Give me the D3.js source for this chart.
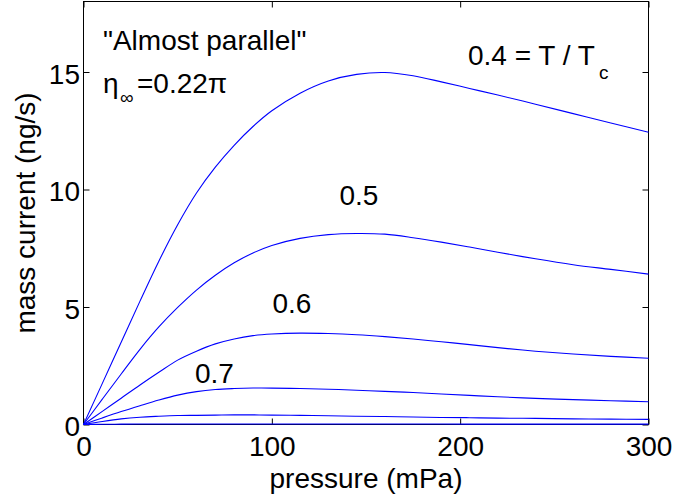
<!DOCTYPE html>
<html>
<head>
<meta charset="utf-8">
<script src="https://cdn.jsdelivr.net/npm/d3@7"></script>
<style>
  html, body { margin: 0; padding: 0; background: #fff; }
  svg { display: block; }
  text { font-family: "Liberation Sans", Arial, Helvetica, sans-serif; fill: #000; }
</style>
</head>
<body>
<svg id="chart" width="674" height="500"></svg>
<script>
// ---- data ----
const pressure = [0,10,20,30,40,50,60,70,80,90,100,115,130,145,160,175,190,205,220,240,260,280,300];
const current04 = [0,1.75,3.5,5.25,6.95,8.5,9.85,10.95,11.88,12.68,13.35,14.1,14.62,14.9,14.98,14.84,14.58,14.3,14.02,13.63,13.23,12.83,12.44];
const current05 = [0,1.08,2.15,3.2,4.15,4.98,5.72,6.35,6.88,7.3,7.62,7.92,8.08,8.13,8.1,7.95,7.76,7.55,7.33,7.05,6.8,6.6,6.4];
const current06 = [0,0.56,1.12,1.68,2.22,2.74,3.12,3.43,3.64,3.78,3.85,3.89,3.87,3.82,3.74,3.64,3.52,3.4,3.27,3.12,3.0,2.9,2.82];
const current07 = [0,0.28,0.55,0.8,1.04,1.25,1.4,1.49,1.53,1.55,1.55,1.53,1.5,1.46,1.41,1.36,1.3,1.24,1.18,1.11,1.06,1.01,0.97];
const current08 = [0,0.13,0.24,0.31,0.35,0.38,0.39,0.4,0.41,0.41,0.4,0.39,0.37,0.35,0.34,0.32,0.3,0.29,0.27,0.26,0.24,0.23,0.22];
const current09 = [0,0.01,0.015,0.02,0.02,0.02,0.02,0.02,0.02,0.02,0.02,0.02,0.02,0.02,0.02,0.02,0.02,0.018,0.018,0.017,0.016,0.015,0.015];
const seriesNames = ["0.4","0.5","0.6","0.7","0.8","0.9"];
const xTicks = [0,100,200,300];
const yTicks = [0,5,10,15];

// ---- layout ----
const svg = d3.select("#chart");
const L = 83.5, R = 648.5, T = 1.5, B = 424.5;
const x = d3.scaleLinear().domain([0,300]).range([L,R]);
const y = d3.scaleLinear().domain([0,18]).range([B,T]);
const FS = 28;

// box
svg.append("rect").attr("x",L).attr("y",T).attr("width",R-L).attr("height",B-T)
  .attr("fill","none").attr("stroke","#000").attr("stroke-width",1);

// axes (inward ticks)
const gx = svg.append("g").attr("transform",`translate(0,${B})`)
  .call(d3.axisBottom(x).tickValues(xTicks).tickSizeInner(-6).tickSizeOuter(0).tickPadding(11.5));
const gy = svg.append("g").attr("transform",`translate(${L},0)`)
  .call(d3.axisLeft(y).tickValues(yTicks).tickSizeInner(-6).tickSizeOuter(0).tickPadding(3.5));
const gxt = svg.append("g").attr("transform",`translate(0,${T})`)
  .call(d3.axisTop(x).tickValues(xTicks).tickSizeInner(-6).tickSizeOuter(0).tickFormat(""));
const gyr = svg.append("g").attr("transform",`translate(${R},0)`)
  .call(d3.axisRight(y).tickValues(yTicks).tickSizeInner(-6).tickSizeOuter(0).tickFormat(""));
[gx,gy,gxt,gyr].forEach(g => {
  g.select(".domain").remove();
  g.selectAll(".tick line").attr("stroke","#000");
  g.selectAll(".tick text").attr("font-size",FS).attr("font-family",null).attr("fill","#000");
});
gy.selectAll(".tick text").attr("dy","0.4em");

// curves
const allSeries = [current04,current05,current06,current07,current08,current09];
const line = d3.line().x((d,i)=>x(pressure[i])).y(d=>y(d)).curve(d3.curveCatmullRom.alpha(0.5));
svg.append("g").selectAll("path").data(allSeries).join("path")
  .attr("d", d => line(d))
  .attr("fill","none").attr("stroke","#0000ff").attr("stroke-width",1.1)
  .attr("class",(d,i)=>"s"+seriesNames[i]);

// curve labels
svg.append("text").attr("x",468).attr("y",64.5).attr("font-size",FS).text("0.4 = T / T");
svg.append("text").attr("x",599).attr("y",79).attr("font-size",19).text("c");
svg.append("text").attr("x",339.5).attr("y",205).attr("font-size",FS).text(seriesNames[1]);
svg.append("text").attr("x",272.5).attr("y",312.5).attr("font-size",FS).text(seriesNames[2]);
svg.append("text").attr("x",195).attr("y",382.5).attr("font-size",FS).text(seriesNames[3]);

// annotations
svg.append("text").attr("x",103).attr("y",49.5).attr("font-size",FS).text("\"Almost parallel\"");
svg.append("text").attr("x",103).attr("y",92.5).attr("font-size",FS).text("η");
svg.append("text").attr("x",120).attr("y",104).attr("font-size",19).text("∞");
svg.append("text").attr("x",137).attr("y",92.5).attr("font-size",FS).text("=0.22π");

// axis titles
svg.append("text").attr("x",(L+R)/2).attr("y",488).attr("text-anchor","middle")
  .attr("font-size",FS).text("pressure (mPa)");
svg.append("text").attr("transform",`translate(35,${(T+B)/2}) rotate(-90)`)
  .attr("text-anchor","middle").attr("font-size",FS).text("mass current (ng/s)");
</script>
</body>
</html>
